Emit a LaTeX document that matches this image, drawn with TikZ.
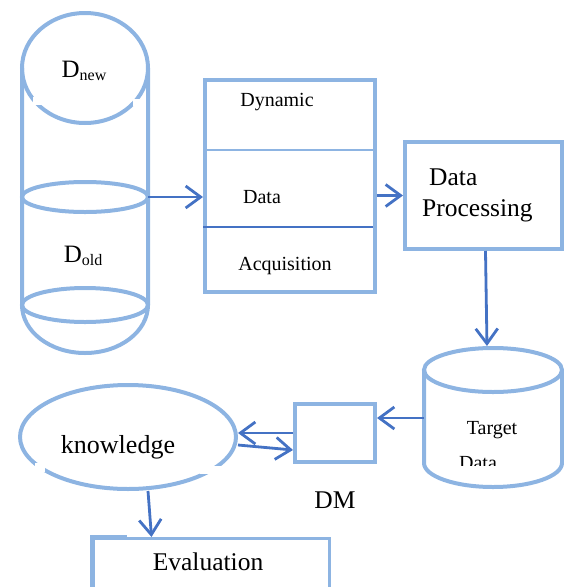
\documentclass[tikz,border=0pt]{standalone}
\usepackage{fontspec}
\setmainfont{Liberation Serif}
\usetikzlibrary{arrows.meta,shapes.geometric}
\definecolor{shapeblue}{RGB}{141,180,226}
\definecolor{arrowblue}{RGB}{68,114,196}
\tikzset{
  outline/.style={draw=shapeblue, line width=4pt},
  boxshape/.style={outline, rectangle, anchor=north west, inner sep=0},
  flow/.style={draw=arrowblue, line width=2.8pt, -{Straight Barb[length=15pt,width=22pt,line width=2.8pt]}},
  smalltxt/.style={font=\fontsize{20}{22}\selectfont, inner sep=0},
  bigtxt/.style={font=\fontsize{25.5}{28}\selectfont, inner sep=0},
  gap/.style={fill=white, draw=none},
}
\begin{document}
\begin{tikzpicture}[x=1pt,y=-1pt]
\useasboundingbox (0,0) rectangle (564,587);

% source store: D_new on top of D_old
\draw[outline] (85,68) ellipse[x radius=63, y radius=55];
\draw[outline] (22,68) -- (22,305) arc[start angle=180, end angle=0, x radius=63, y radius=48] -- (148,68);
\fill[gap] (33,97) rectangle (42,105);
\fill[gap] (133,99) rectangle (141,106);
\draw[outline] (85,197) ellipse[x radius=63, y radius=15];
\draw[outline] (85,305) ellipse[x radius=63, y radius=17];
\coordinate (src) at (148,197);
\node[font=\fontsize{25}{28}\selectfont, inner sep=0] (dnew) at (84,71)
  {D\raisebox{-0.3ex}{\fontsize{16}{18}\selectfont new}};
\node[font=\fontsize{25}{28}\selectfont, inner sep=0] (dold) at (83,256)
  {D\raisebox{-0.3ex}{\fontsize{16}{18}\selectfont old}};

% dynamic data acquisition
\node[boxshape, minimum width=170pt, minimum height=212pt] (dda) at (203,78) {};
\draw[shapeblue, line width=1.5pt] (203,150) -- (373,150);
\draw[arrowblue, line width=1.5pt] (203,227) -- (373,227);
\node[smalltxt] (t1) at (277,102) {Dynamic};
\node[smalltxt] (t2) at (262,197) {Data};
\node[smalltxt] (t3) at (285,266) {Acquisition};

% data processing
\node[boxshape, minimum width=157pt, minimum height=107pt] (dp) at (403,140) {};
\node[bigtxt, anchor=west] (dp1) at (429,177) {Data};
\node[bigtxt, anchor=west] (dp2) at (422,211) {Processing};

% target data store
\draw[outline] (424,370) -- (424,463) arc[start angle=180, end angle=0, x radius=69, y radius=24] -- (562,370);
\draw[outline] (493,370) ellipse[x radius=69, y radius=22];
\coordinate (tgttop) at (487,346);
\coordinate (tgtleft) at (424,418);
\node[smalltxt] (tg1) at (492,430) {Target};
\begin{scope}
  \clip (430,440) rectangle (540,465);
  \node[smalltxt] (tg2) at (478,463) {Data};
\end{scope}

% data mining
\node[boxshape, minimum width=80pt, minimum height=58pt] (dm) at (293,402) {};
\node[bigtxt] (dml) at (335,500) {DM};

% knowledge
\node[outline, ellipse, minimum width=216pt, minimum height=104pt, inner sep=0] (know) at (128,437) {};
\fill[gap] (35,463) rectangle (45,472);
\fill[gap] (200,466) rectangle (221,474);
\node[font=\fontsize{26}{28}\selectfont, inner sep=0] (kt) at (118,447) {knowledge};

% evaluation
\node[boxshape, line width=3pt, minimum width=236pt, minimum height=80pt] (eval) at (92,537) {};
\draw[shapeblue, line width=4.5pt] (92,600) -- (92,537) -- (127,537);
\node[bigtxt] (et) at (208,562) {Evaluation};

% connectors
\draw[flow] (src) -- (dda.west |- src);
\draw[flow] (dda.east |- dp.west) -- (dp.west);
\draw[flow] ([xshift=2pt]dp.south) -- (tgttop);
\draw[flow] (tgtleft) -- (dm.east |- tgtleft);
\draw[flow] (dm.west) -- (dm.west -| know.east);
\draw[flow] ([yshift=-8pt]know.east) -- ([yshift=-17pt]dm.west);
\draw[flow] ([xshift=20pt]know.south) -- ([xshift=-60pt]eval.north);
\end{tikzpicture}
\end{document}
